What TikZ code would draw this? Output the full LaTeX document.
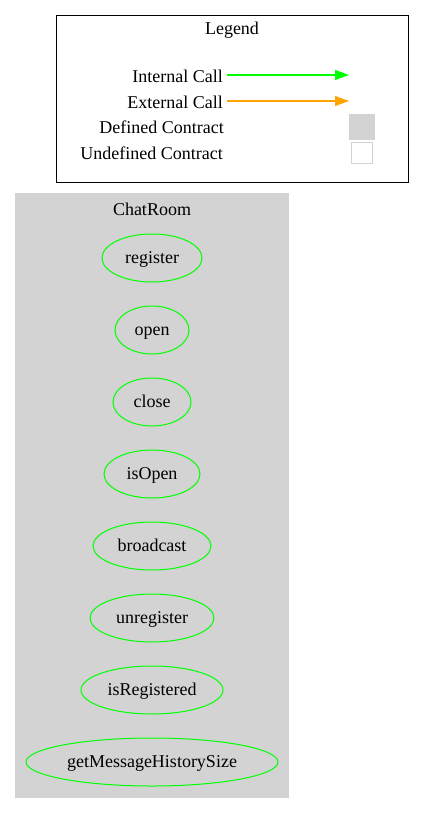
\documentclass[tikz,border=0pt]{standalone}
\usepackage{fontspec}
\setmainfont{Liberation Serif}
\usetikzlibrary{arrows.meta,shapes.geometric,positioning}
\definecolor{callgreen}{HTML}{00FF00}
\definecolor{callorange}{HTML}{FFA500}
\definecolor{clustergray}{HTML}{D3D3D3}

\begin{document}
\begin{tikzpicture}[x=1pt, y=-1pt, node distance=24pt and 24pt,
    every node/.style={font=\fontsize{18}{21}\selectfont},
    func/.style={ellipse, draw=callgreen, line width=1pt, minimum height=48pt, inner sep=0pt, outer sep=0pt, text height=13.5pt, text depth=2.7pt},
    legtext/.style={anchor=east, inner sep=0pt},
    callarrow/.style={line width=1.1pt, -{Triangle[length=14pt, width=10pt]}}]
      \useasboundingbox (0,0) rectangle (425,813);

      % legend
      \node[draw, line width=1pt, minimum width=352pt, minimum height=167pt, anchor=north west] (legend) at (56,15) {};
      \node[] (legtitle) at (232,30) {Legend};
      \node[legtext] (int) at (223,76) {Internal Call};
      \node[legtext] (ext) at (223,102) {External Call};
      \node[legtext] (def) at (224,127) {Defined Contract};
      \node[legtext] (undef) at (223,153) {Undefined Contract};
      \coordinate (intstart) at (227,75);
      \coordinate (intend) at (349,75);
      \coordinate (extstart) at (227,101);
      \coordinate (extend) at (349,101);
      \node[fill=clustergray, draw=clustergray, minimum size=25pt, inner sep=0pt] (defbox) at (362,127) {};
      \node[fill=white, draw=clustergray, line width=1pt, minimum size=21pt, inner sep=0pt] (undefbox) at (362,153) {};

      \draw[callarrow, draw=callgreen, fill=callgreen] (intstart) -- (intend);
      \draw[callarrow, draw=callorange, fill=callorange] (extstart) -- (extend);

      % cluster
      \node[fill=clustergray, minimum width=274pt, minimum height=605pt, anchor=north west, inner sep=0pt] (chatroom) at (15,193) {};
      \node[] (chattitle) at (152,209) {ChatRoom};

      \node[func, minimum width=100pt] (register) at (152,258) {register};
      \node[func, minimum width=74pt] (open) [below=of register] {open};
      \node[func, minimum width=78pt] (close) [below=of open] {close};
      \node[func, minimum width=96pt] (isOpen) [below=of close] {isOpen};
      \node[func, minimum width=118pt] (broadcast) [below=of isOpen] {broadcast};
      \node[func, minimum width=124pt] (unregister) [below=of broadcast] {unregister};
      \node[func, minimum width=142pt] (isRegistered) [below=of unregister] {isRegistered};
      \node[func, minimum width=252pt] (getMessageHistorySize) [below=of isRegistered] {getMessageHistorySize};
    \end{tikzpicture}
\end{document}
